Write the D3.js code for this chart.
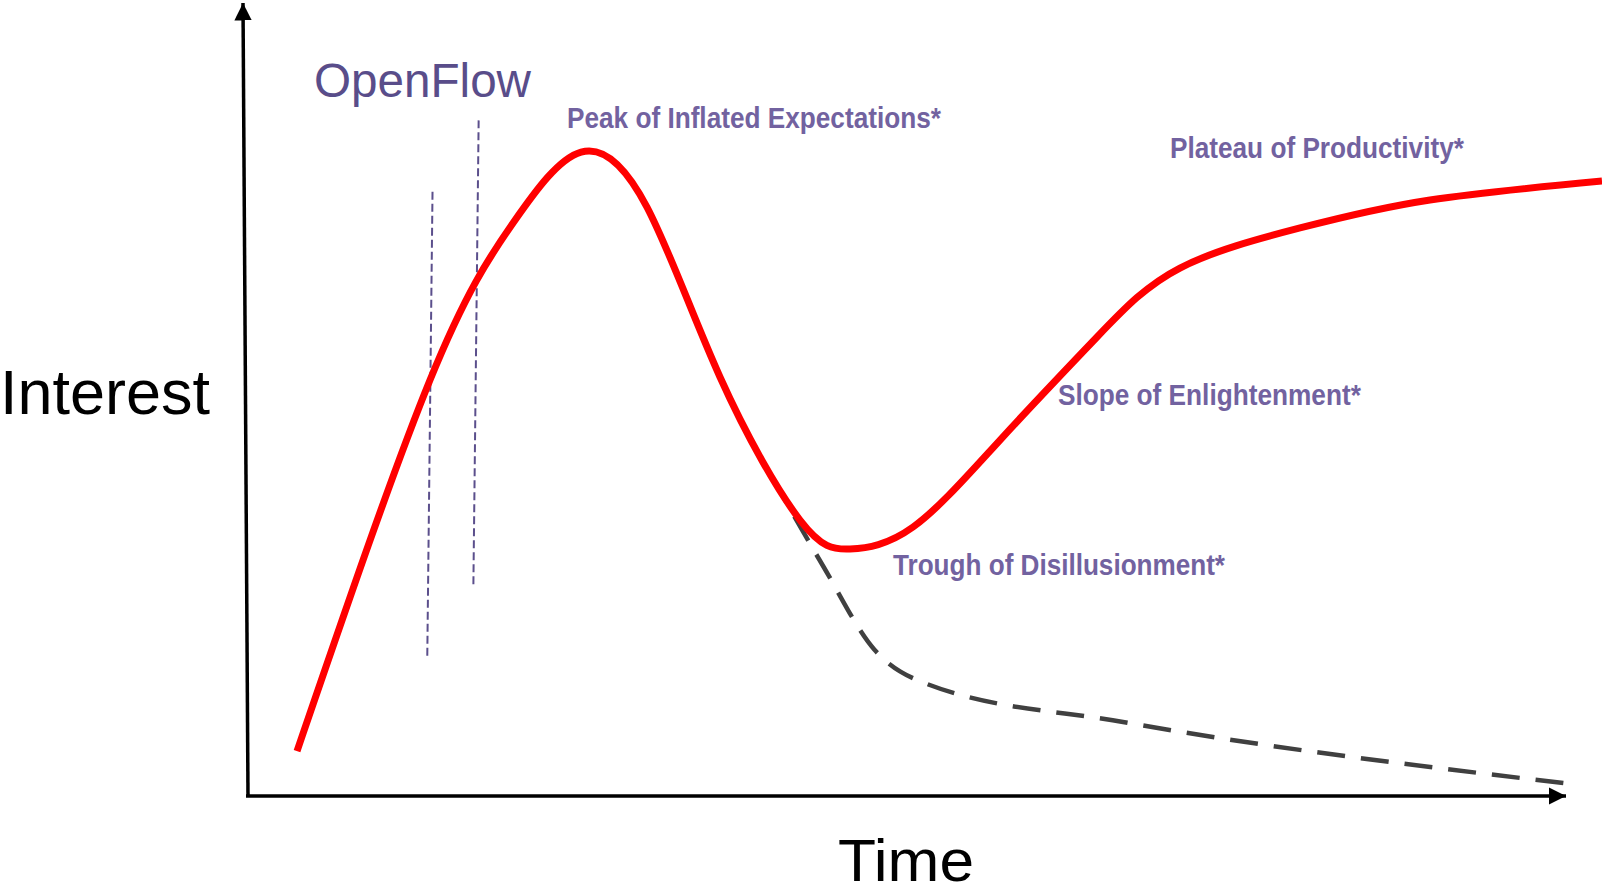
<!DOCTYPE html>
<html>
<head>
<meta charset="utf-8">
<script src="https://cdn.jsdelivr.net/npm/d3@7"></script>
<style>
  html, body { margin: 0; padding: 0; background: #fff; overflow: hidden; }
</style>
</head>
<body>
<script>
// hype cycle curve (time, interest)
var hypeTime     = [3.72, 13.81, 20.11, 25.27, 30.27, 35.81, 41.88, 45.68, 50.46, 57.06, 64.42, 70.71, 79.82, 89.68, 102.73];
var hypeInterest = [5.67, 52.46, 72.26, 81.20, 74.27, 52.84, 34.80, 31.15, 33.92, 44.89, 57.88, 66.58, 71.63, 75.16, 77.55];

// the dashed "fail" branch
var failTime     = [39.8, 43.6, 47.5, 51.4, 66.5, 101.0];
var failInterest = [40.1, 29.1, 18.5, 14.2, 9.3, 1.4];

// openflow markers (two dashed verticals)
var markerTime   = [[14.0, 13.6], [17.5, 17.1]];
var markerLevel  = [[76.2, 17.3], [85.2, 26.6]];

var phaseLabels  = ['Peak of Inflated Expectations*', 'Plateau of Productivity*', 'Slope of Enlightenment*', 'Trough of Disillusionment*'];
var labelTime    = [24.2, 69.95, 61.45, 48.94];
var labelLevel   = [84.2, 80.45, 49.3, 27.9];
var labelWidth   = [374, 294, 303, 332];

var W = 1602, H = 894;

var svg = d3.select('body')
  .append('svg')
    .attr('width', W)
    .attr('height', H);

var x = d3.scaleLinear().domain([0, 100]).range([248, 1566]);
var y = d3.scaleLinear().domain([0, 100]).range([796, 3]);

// arrow head
svg.append('defs').append('marker')
    .attr('id', 'arrow')
    .attr('viewBox', '0 0 10 10')
    .attr('refX', 10).attr('refY', 5)
    .attr('markerWidth', 5).attr('markerHeight', 5)
    .attr('markerUnits', 'strokeWidth')
    .attr('orient', 'auto')
  .append('path')
    .attr('d', 'M0,0 L10,5 L0,10 z')
    .attr('fill', '#000');

// axes
svg.append('line')
    .attr('x1', x(0)).attr('y1', y(0))
    .attr('x2', x(0) - 5).attr('y2', y(100))
    .attr('stroke', '#000').attr('stroke-width', 3.5)
    .attr('marker-end', 'url(#arrow)');

svg.append('line')
    .attr('x1', x(0) - 2).attr('y1', y(0))
    .attr('x2', x(100)).attr('y2', y(0))
    .attr('stroke', '#000').attr('stroke-width', 3.5)
    .attr('marker-end', 'url(#arrow)');

// axis titles
svg.append('text')
    .attr('x', 0).attr('y', 414)
    .attr('font-family', 'Liberation Sans, Arial, sans-serif')
    .attr('font-size', 63)
    .attr('textLength', 210).attr('lengthAdjust', 'spacingAndGlyphs')
    .text('Interest');

svg.append('text')
    .attr('x', 838).attr('y', 881)
    .attr('font-family', 'Liberation Sans, Arial, sans-serif')
    .attr('font-size', 60)
    .attr('textLength', 136).attr('lengthAdjust', 'spacingAndGlyphs')
    .text('Time');

// openflow markers
svg.selectAll('line.marker')
  .data(markerTime).enter()
  .append('line')
    .attr('class', 'marker')
    .attr('x1', function(d) { return x(d[0]); })
    .attr('x2', function(d) { return x(d[1]); })
    .attr('y1', function(d, i) { return y(markerLevel[i][0]); })
    .attr('y2', function(d, i) { return y(markerLevel[i][1]); })
    .attr('stroke', '#5b4f8c')
    .attr('stroke-width', 2)
    .attr('stroke-dasharray', '8,4');

svg.append('text')
    .attr('x', 314).attr('y', 97)
    .attr('font-family', 'Liberation Sans, Arial, sans-serif')
    .attr('font-size', 48)
    .attr('fill', '#594d8a')
    .attr('textLength', 217).attr('lengthAdjust', 'spacingAndGlyphs')
    .text('OpenFlow');

// smooth spline for the hype curve, monotone for the falling branch
var hypeLine = d3.line()
  .x(function(d) { return x(d[0]); })
  .y(function(d) { return y(d[1]); })
  .curve(d3.curveNatural);

var failLine = d3.line()
  .x(function(d) { return x(d[0]); })
  .y(function(d) { return y(d[1]); })
  .curve(d3.curveMonotoneX);

var failPts = failTime.map(function(t, i) { return [t, failInterest[i]]; });
var hypePts = hypeTime.map(function(t, i) { return [t, hypeInterest[i]]; });

svg.append('path')
    .attr('d', failLine(failPts))
    .attr('fill', 'none')
    .attr('stroke', '#404040')
    .attr('stroke-width', 4.5)
    .attr('stroke-dasharray', '28,16');

svg.append('path')
    .attr('d', hypeLine(hypePts))
    .attr('fill', 'none')
    .attr('stroke', '#ff0000')
    .attr('stroke-width', 7);

// phase labels
svg.selectAll('text.phase')
  .data(phaseLabels).enter()
  .append('text')
    .attr('class', 'phase')
    .attr('x', function(d, i) { return x(labelTime[i]); })
    .attr('y', function(d, i) { return y(labelLevel[i]); })
    .attr('font-family', 'Liberation Sans Narrow, Liberation Sans, Arial, sans-serif')
    .attr('font-weight', 'bold')
    .attr('font-size', 30)
    .attr('fill', '#7262a0')
    .attr('textLength', function(d, i) { return labelWidth[i]; })
    .attr('lengthAdjust', 'spacingAndGlyphs')
    .text(function(d) { return d; });
</script>
</body>
</html>
